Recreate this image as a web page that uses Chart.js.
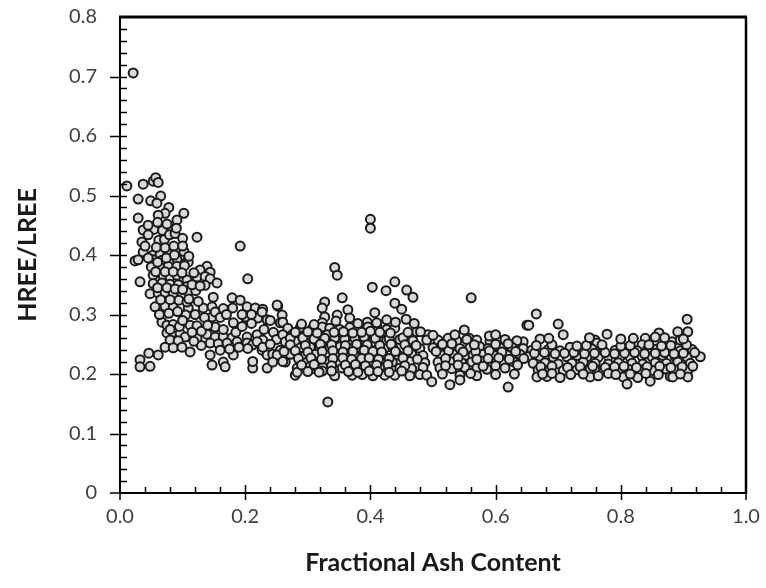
<!DOCTYPE html>
<html>
<head>
<meta charset="utf-8">
<script src="https://cdn.jsdelivr.net/npm/chart.js@4"></script>
<style>
  html, body { margin: 0; padding: 0; background: #fff; }
  canvas { display: block; }
</style>
</head>
<body>
<canvas id="ash-chart" width="766" height="588"></canvas>
<script>
'use strict';

// fractional ash content vs HREE/LREE
const low_ash_points = [
    [0.021, 0.706], [0.011, 0.516], [0.037, 0.519], [0.053, 0.524], [0.057, 0.53], [0.061, 0.522],
    [0.029, 0.494], [0.049, 0.491], [0.065, 0.499], [0.059, 0.487], [0.078, 0.48], [0.072, 0.47],
    [0.061, 0.467], [0.102, 0.47], [0.029, 0.462], [0.091, 0.459],
    [0.037, 0.442], [0.054, 0.443], [0.068, 0.441], [0.083, 0.444],
    [0.045, 0.434], [0.062, 0.425], [0.071, 0.426], [0.079, 0.434], [0.088, 0.436], [0.123, 0.43],
    [0.035, 0.422], [0.1, 0.428], [0.192, 0.415],
    [0.037, 0.405], [0.053, 0.4], [0.064, 0.401], [0.077, 0.403], [0.096, 0.398], [0.102, 0.406],
    [0.024, 0.39], [0.029, 0.392], [0.053, 0.392], [0.067, 0.391], [0.08, 0.388], [0.091, 0.393], [0.109, 0.388],
    [0.05, 0.38], [0.064, 0.379], [0.077, 0.381], [0.091, 0.381], [0.103, 0.382], [0.139, 0.381],
    [0.128, 0.375], [0.144, 0.371],
    [0.032, 0.355], [0.053, 0.366], [0.069, 0.365], [0.08, 0.363], [0.091, 0.366], [0.107, 0.358],
    [0.123, 0.363], [0.136, 0.364], [0.144, 0.36], [0.155, 0.353], [0.204, 0.36],
    [0.053, 0.352], [0.067, 0.353], [0.08, 0.351], [0.093, 0.35], [0.107, 0.347], [0.136, 0.349],
    [0.048, 0.335], [0.061, 0.336], [0.072, 0.337], [0.085, 0.335], [0.099, 0.333], [0.109, 0.338], [0.121, 0.34],
    [0.056, 0.313], [0.072, 0.314], [0.085, 0.312], [0.109, 0.311], [0.094, 0.324], [0.107, 0.321],
    [0.133, 0.311], [0.147, 0.313], [0.149, 0.329], [0.179, 0.328], [0.192, 0.324],
    [0.18, 0.311], [0.203, 0.313], [0.216, 0.311], [0.228, 0.309], [0.252, 0.314],
    [0.105, 0.299], [0.147, 0.296], [0.152, 0.304], [0.181, 0.286], [0.2, 0.296], [0.22, 0.294],
    [0.235, 0.291], [0.259, 0.299], [0.256, 0.286], [0.227, 0.304], [0.24, 0.29],
    [0.067, 0.287], [0.075, 0.282], [0.085, 0.283], [0.112, 0.282], [0.123, 0.281], [0.152, 0.279],
    [0.075, 0.269], [0.085, 0.27], [0.096, 0.268], [0.104, 0.262], [0.08, 0.257], [0.093, 0.256],
    [0.072, 0.245], [0.085, 0.244], [0.099, 0.245], [0.112, 0.237],
    [0.123, 0.26], [0.139, 0.267], [0.152, 0.262], [0.165, 0.263], [0.179, 0.261], [0.187, 0.254],
    [0.144, 0.252], [0.157, 0.251], [0.171, 0.252],
    [0.203, 0.262], [0.219, 0.266], [0.228, 0.257], [0.203, 0.252], [0.212, 0.249],
    [0.227, 0.24], [0.235, 0.232], [0.244, 0.233], [0.256, 0.24], [0.267, 0.232], [0.264, 0.22],
    [0.144, 0.232], [0.147, 0.215], [0.165, 0.22], [0.168, 0.212], [0.181, 0.232], [0.212, 0.21], [0.235, 0.21],
    [0.032, 0.224], [0.046, 0.235], [0.061, 0.232], [0.032, 0.212], [0.048, 0.213],
    [0.219, 0.254], [0.204, 0.243], [0.228, 0.245], [0.212, 0.221],
    [0.045, 0.45], [0.06, 0.455], [0.075, 0.452], [0.09, 0.445], [0.04, 0.415], [0.058, 0.413],
    [0.072, 0.412], [0.086, 0.415], [0.1, 0.415], [0.045, 0.395], [0.06, 0.388], [0.074, 0.395],
    [0.087, 0.4], [0.11, 0.398], [0.057, 0.372], [0.072, 0.372], [0.085, 0.372], [0.099, 0.37],
    [0.118, 0.37], [0.06, 0.345], [0.075, 0.345], [0.088, 0.343], [0.1, 0.342], [0.115, 0.35],
    [0.128, 0.348], [0.065, 0.325], [0.08, 0.325], [0.11, 0.326], [0.125, 0.322], [0.063, 0.3],
    [0.078, 0.302], [0.092, 0.305], [0.12, 0.3], [0.135, 0.295], [0.165, 0.31], [0.16, 0.295],
    [0.17, 0.3], [0.195, 0.3], [0.21, 0.3], [0.08, 0.275], [0.095, 0.28], [0.1, 0.29], [0.115, 0.27],
    [0.13, 0.272], [0.14, 0.282], [0.165, 0.275], [0.185, 0.27], [0.195, 0.28], [0.21, 0.285],
    [0.23, 0.275], [0.245, 0.27], [0.25, 0.258], [0.24, 0.25], [0.16, 0.24], [0.175, 0.242],
    [0.19, 0.245], [0.13, 0.248], [0.118, 0.255]
];

const mid_ash_points = [
    [0.4, 0.46], [0.4, 0.445], [0.343, 0.379], [0.347, 0.366], [0.403, 0.346], [0.425, 0.34],
    [0.355, 0.328], [0.327, 0.321], [0.323, 0.311], [0.251, 0.316],
    [0.26, 0.287], [0.364, 0.308], [0.347, 0.299], [0.367, 0.294], [0.407, 0.303], [0.426, 0.291],
    [0.327, 0.296], [0.323, 0.286], [0.395, 0.287],
    [0.268, 0.277], [0.288, 0.278], [0.307, 0.276], [0.323, 0.279], [0.335, 0.277], [0.351, 0.275],
    [0.367, 0.278], [0.38, 0.276], [0.396, 0.279], [0.411, 0.277], [0.426, 0.275],
    [0.26, 0.266], [0.276, 0.267], [0.299, 0.265], [0.315, 0.267], [0.331, 0.266], [0.347, 0.264],
    [0.363, 0.267], [0.379, 0.265], [0.391, 0.268], [0.404, 0.266], [0.42, 0.265],
    [0.264, 0.254], [0.28, 0.255], [0.296, 0.253], [0.312, 0.256], [0.327, 0.254], [0.343, 0.253],
    [0.356, 0.255], [0.372, 0.254], [0.388, 0.256], [0.404, 0.253], [0.42, 0.255],
    [0.288, 0.244], [0.304, 0.245], [0.319, 0.243], [0.335, 0.244], [0.351, 0.246], [0.367, 0.243],
    [0.38, 0.245], [0.396, 0.244], [0.412, 0.242], [0.426, 0.245],
    [0.251, 0.232], [0.272, 0.233], [0.296, 0.231], [0.312, 0.233], [0.331, 0.232], [0.347, 0.23],
    [0.363, 0.233], [0.375, 0.232], [0.391, 0.231], [0.407, 0.233], [0.42, 0.232],
    [0.244, 0.22], [0.26, 0.221], [0.299, 0.22], [0.316, 0.219], [0.332, 0.221], [0.351, 0.22],
    [0.367, 0.218], [0.383, 0.221], [0.403, 0.22], [0.419, 0.219],
    [0.283, 0.21], [0.307, 0.209], [0.324, 0.211], [0.355, 0.21], [0.395, 0.209], [0.415, 0.211],
    [0.28, 0.198], [0.343, 0.197], [0.371, 0.198], [0.387, 0.199], [0.404, 0.197], [0.423, 0.198],
    [0.332, 0.153], [0.283, 0.203], [0.304, 0.213], [0.323, 0.205],
    [0.439, 0.355], [0.458, 0.341], [0.468, 0.329], [0.439, 0.319], [0.45, 0.309], [0.457, 0.292],
    [0.439, 0.277], [0.474, 0.271], [0.492, 0.266],
    [0.426, 0.257], [0.447, 0.258], [0.468, 0.256], [0.49, 0.257],
    [0.436, 0.244], [0.458, 0.245], [0.479, 0.243],
    [0.444, 0.232], [0.466, 0.233], [0.484, 0.231],
    [0.435, 0.22], [0.463, 0.221], [0.487, 0.219],
    [0.447, 0.21], [0.466, 0.209], [0.484, 0.211],
    [0.439, 0.198], [0.463, 0.197], [0.479, 0.199], [0.49, 0.198], [0.498, 0.187],
    [0.272, 0.26], [0.292, 0.261], [0.31, 0.259], [0.327, 0.26], [0.343, 0.261], [0.359, 0.259],
    [0.375, 0.26], [0.39, 0.262], [0.408, 0.26], [0.43, 0.259], [0.452, 0.261],
    [0.272, 0.249], [0.296, 0.248], [0.32, 0.25], [0.338, 0.249], [0.36, 0.248], [0.378, 0.25],
    [0.395, 0.249], [0.415, 0.248], [0.433, 0.25], [0.455, 0.249], [0.473, 0.248],
    [0.262, 0.238], [0.28, 0.239], [0.3, 0.237], [0.323, 0.238], [0.34, 0.239], [0.356, 0.237],
    [0.372, 0.238], [0.39, 0.24], [0.404, 0.238], [0.418, 0.237], [0.44, 0.238], [0.46, 0.239],
    [0.285, 0.226], [0.305, 0.227], [0.322, 0.225], [0.34, 0.226], [0.356, 0.227], [0.37, 0.225],
    [0.386, 0.226], [0.398, 0.227], [0.413, 0.225], [0.43, 0.226], [0.452, 0.227], [0.475, 0.225],
    [0.29, 0.215], [0.31, 0.216], [0.338, 0.214], [0.36, 0.215], [0.376, 0.216], [0.392, 0.214],
    [0.41, 0.215], [0.428, 0.216], [0.455, 0.214],
    [0.3, 0.204], [0.318, 0.203], [0.338, 0.205], [0.365, 0.204], [0.38, 0.203], [0.398, 0.205],
    [0.412, 0.204], [0.43, 0.203], [0.45, 0.205],
    [0.28, 0.27], [0.3, 0.271], [0.315, 0.269], [0.342, 0.27], [0.357, 0.271], [0.372, 0.269],
    [0.386, 0.27], [0.4, 0.272], [0.415, 0.27], [0.432, 0.269], [0.46, 0.27], [0.48, 0.271],
    [0.29, 0.284], [0.31, 0.283], [0.345, 0.289], [0.38, 0.285], [0.41, 0.286], [0.44, 0.287], [0.47, 0.285]
];

const high_ash_points = [
    [0.561, 0.328], [0.524, 0.26], [0.55, 0.274], [0.558, 0.26], [0.65, 0.282], [0.644, 0.254],
    [0.628, 0.249], [0.612, 0.24],
    [0.508, 0.257], [0.538, 0.256], [0.554, 0.258], [0.57, 0.257], [0.591, 0.255], [0.615, 0.258], [0.634, 0.256],
    [0.5, 0.244], [0.522, 0.245], [0.543, 0.243], [0.559, 0.244], [0.575, 0.246], [0.588, 0.243],
    [0.607, 0.244], [0.626, 0.245], [0.644, 0.243],
    [0.514, 0.232], [0.532, 0.233], [0.551, 0.231], [0.564, 0.232], [0.58, 0.233], [0.599, 0.231],
    [0.618, 0.232], [0.639, 0.233],
    [0.508, 0.22], [0.527, 0.221], [0.546, 0.219], [0.562, 0.22], [0.578, 0.222], [0.594, 0.219],
    [0.612, 0.22], [0.628, 0.221],
    [0.511, 0.21], [0.53, 0.209], [0.551, 0.211], [0.57, 0.21], [0.586, 0.208], [0.615, 0.21],
    [0.543, 0.198], [0.57, 0.197], [0.527, 0.182], [0.543, 0.19], [0.62, 0.178],
    [0.665, 0.301], [0.653, 0.282], [0.7, 0.284], [0.708, 0.266], [0.671, 0.259], [0.906, 0.292],
    [0.891, 0.271], [0.907, 0.271], [0.861, 0.269], [0.855, 0.262], [0.839, 0.26], [0.834, 0.249],
    [0.778, 0.267], [0.759, 0.257], [0.762, 0.252], [0.719, 0.245], [0.882, 0.254], [0.895, 0.257],
    [0.658, 0.24], [0.684, 0.241], [0.703, 0.239], [0.735, 0.24], [0.754, 0.242], [0.772, 0.239],
    [0.791, 0.24], [0.81, 0.241], [0.826, 0.239], [0.842, 0.24], [0.858, 0.242], [0.875, 0.24],
    [0.895, 0.239], [0.914, 0.241],
    [0.652, 0.229], [0.671, 0.23], [0.692, 0.228], [0.714, 0.229], [0.73, 0.231], [0.746, 0.229],
    [0.764, 0.228], [0.78, 0.23], [0.799, 0.229], [0.815, 0.228], [0.834, 0.23], [0.85, 0.229],
    [0.867, 0.231], [0.887, 0.229], [0.906, 0.228], [0.927, 0.229],
    [0.66, 0.218], [0.679, 0.219], [0.7, 0.217], [0.722, 0.218], [0.74, 0.22], [0.759, 0.218],
    [0.78, 0.217], [0.796, 0.219], [0.818, 0.218], [0.835, 0.217], [0.855, 0.219], [0.873, 0.218],
    [0.891, 0.22], [0.911, 0.218],
    [0.668, 0.207], [0.687, 0.208], [0.708, 0.206], [0.73, 0.207], [0.751, 0.209], [0.772, 0.207],
    [0.796, 0.206], [0.812, 0.208], [0.831, 0.207], [0.851, 0.206], [0.873, 0.208], [0.89, 0.207],
    [0.907, 0.206],
    [0.666, 0.195], [0.682, 0.196], [0.703, 0.194], [0.751, 0.195], [0.764, 0.197], [0.804, 0.195],
    [0.827, 0.194], [0.879, 0.196], [0.907, 0.195],
    [0.81, 0.183], [0.847, 0.188], [0.883, 0.195],
    [0.662, 0.235], [0.678, 0.236], [0.695, 0.234], [0.71, 0.235], [0.725, 0.236], [0.742, 0.234],
    [0.758, 0.235], [0.775, 0.236], [0.79, 0.234], [0.806, 0.235], [0.822, 0.236], [0.838, 0.234],
    [0.855, 0.235], [0.87, 0.236], [0.885, 0.234], [0.9, 0.235], [0.918, 0.236],
    [0.672, 0.212], [0.69, 0.213], [0.715, 0.211], [0.735, 0.212], [0.755, 0.213], [0.775, 0.211],
    [0.79, 0.212], [0.805, 0.213], [0.825, 0.211], [0.842, 0.212], [0.862, 0.213], [0.88, 0.211],
    [0.898, 0.212], [0.915, 0.213],
    [0.675, 0.2], [0.69, 0.201], [0.72, 0.199], [0.74, 0.2], [0.78, 0.201], [0.792, 0.199],
    [0.815, 0.2], [0.84, 0.201], [0.86, 0.199], [0.895, 0.2],
    [0.665, 0.248], [0.69, 0.249], [0.73, 0.247], [0.745, 0.248], [0.77, 0.249], [0.8, 0.247],
    [0.815, 0.248], [0.845, 0.249], [0.865, 0.247], [0.88, 0.248], [0.905, 0.249],
    [0.685, 0.26], [0.75, 0.261], [0.8, 0.259], [0.82, 0.26], [0.87, 0.261], [0.9, 0.259],
    [0.505, 0.238], [0.525, 0.239], [0.548, 0.237], [0.568, 0.238], [0.59, 0.239], [0.61, 0.237], [0.632, 0.238],
    [0.52, 0.226], [0.54, 0.227], [0.57, 0.225], [0.588, 0.226], [0.605, 0.227], [0.622, 0.225], [0.645, 0.226],
    [0.515, 0.25], [0.53, 0.251], [0.566, 0.249], [0.6, 0.25], [0.62, 0.251],
    [0.52, 0.214], [0.54, 0.215], [0.58, 0.213], [0.6, 0.214], [0.635, 0.215],
    [0.515, 0.2], [0.56, 0.201], [0.6, 0.199], [0.63, 0.2],
    [0.5, 0.265], [0.535, 0.266], [0.59, 0.264], [0.6, 0.266]
];

const x_tick_values = [0, 0.2, 0.4, 0.6, 0.8, 1.0];
const y_tick_values = [0, 0.1, 0.2, 0.3, 0.4, 0.5, 0.6, 0.7, 0.8];

const label_font = "Lato, 'Open Sans', sans-serif";

function to_points(pairs) {
    return pairs.map(p => ({ x: p[0], y: p[1] }));
}

// axis frame with excel style crossing major ticks and inside minor ticks
const frame_plugin = {
    id: 'frame',
    afterDraw(chart) {
        const ctx = chart.ctx;
        const { left, right, top, bottom } = chart.chartArea;
        const xs = chart.scales.x;
        const ys = chart.scales.y;
        ctx.save();
        ctx.strokeStyle = '#000';
        ctx.lineCap = 'butt';

        ctx.lineWidth = 3;
        ctx.beginPath();
        ctx.moveTo(left - 1, top);
        ctx.lineTo(right + 1, top);
        ctx.stroke();

        ctx.lineWidth = 2.5;
        ctx.beginPath();
        ctx.moveTo(right, top);
        ctx.lineTo(right, bottom + 1);
        ctx.stroke();

        ctx.lineWidth = 2;
        ctx.beginPath();
        ctx.moveTo(left, top);
        ctx.lineTo(left, bottom + 1);
        ctx.moveTo(left - 1, bottom);
        ctx.lineTo(right, bottom);
        ctx.stroke();

        ctx.lineWidth = 1.5;
        ctx.beginPath();
        for (let i = 1; i < 40; i++) {
            const py = Math.round(ys.getPixelForValue(i * 0.02)) + 0.5;
            if (i % 5 === 0) {
                ctx.moveTo(left - 10, py);
                ctx.lineTo(left + 7, py);
            } else {
                ctx.moveTo(left, py);
                ctx.lineTo(left + 7, py);
            }
        }
        ctx.moveTo(left - 10, bottom);
        ctx.lineTo(left, bottom);
        for (let i = 1; i < 25; i++) {
            const px = Math.round(xs.getPixelForValue(i * 0.04)) + 0.5;
            if (i % 5 === 0) {
                ctx.moveTo(px, bottom - 8);
                ctx.lineTo(px, bottom + 7);
            } else {
                ctx.moveTo(px, bottom);
                ctx.lineTo(px, bottom - 6);
            }
        }
        ctx.moveTo(left, bottom);
        ctx.lineTo(left, bottom + 7);
        ctx.moveTo(right, bottom);
        ctx.lineTo(right, bottom + 7);
        ctx.stroke();
        ctx.restore();
    }
};

const chart_data = {
    datasets: [{
        data: to_points(low_ash_points.concat(mid_ash_points, high_ash_points)),
        pointRadius: 4.5,
        pointBackgroundColor: '#d9d9d9',
        pointBorderColor: '#1a1a1a',
        pointBorderWidth: 2
    }]
};

const config = {
    type: 'scatter',
    data: chart_data,
    plugins: [frame_plugin],
    options: {
        responsive: false,
        animation: false,
        devicePixelRatio: 1,
        layout: {
            padding: { top: 17, right: 20, left: 0, bottom: 0 }
        },
        plugins: {
            legend: { display: false },
            tooltip: { enabled: false }
        },
        scales: {
            x: {
                type: 'linear',
                min: 0,
                max: 1,
                afterBuildTicks: scale => {
                    scale.ticks = x_tick_values.map(v => ({ value: v }));
                },
                afterFit: scale => {
                    scale.height = 95;
                    scale.paddingLeft = 0;
                    scale.paddingRight = 0;
                },
                ticks: {
                    callback: v => v.toFixed(1),
                    font: { family: label_font, size: 20 },
                    color: '#404040',
                    padding: 12,
                    maxRotation: 0
                },
                grid: { display: false, drawTicks: false },
                border: { display: false },
                title: {
                    display: true,
                    text: 'Fractional Ash Content',
                    font: { family: label_font, size: 25, weight: 'bold' },
                    color: '#1a1a1a',
                    padding: { top: 0, bottom: 10 }
                }
            },
            y: {
                type: 'linear',
                min: 0,
                max: 0.8,
                afterBuildTicks: scale => {
                    scale.ticks = y_tick_values.map(v => ({ value: v }));
                },
                afterFit: scale => {
                    scale.width = 120;
                    scale.paddingTop = 0;
                    scale.paddingBottom = 0;
                },
                ticks: {
                    callback: v => v === 0 ? '0' : v.toFixed(1),
                    font: { family: label_font, size: 20 },
                    color: '#404040',
                    padding: 23
                },
                grid: { display: false, drawTicks: false },
                border: { display: false },
                title: {
                    display: true,
                    text: 'HREE/LREE',
                    font: { family: label_font, size: 25, weight: 'bold' },
                    color: '#1a1a1a',
                    padding: { top: 13, bottom: 0 }
                }
            }
        }
    }
};

const chart = new Chart(document.getElementById('ash-chart'), config);
</script>
</body>
</html>
